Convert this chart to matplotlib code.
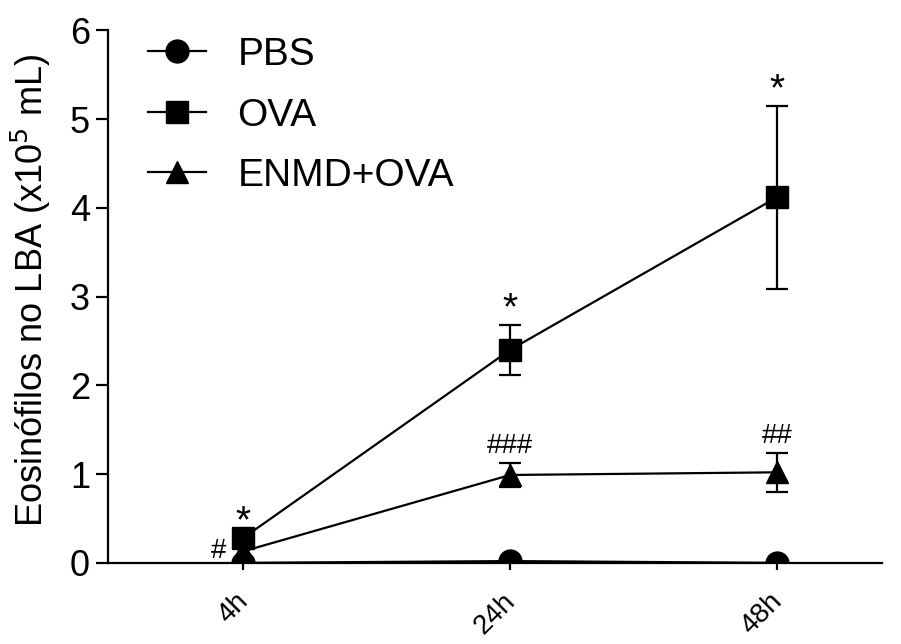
import numpy as np
import matplotlib
matplotlib.use('Agg')
import matplotlib.pyplot as plt
from matplotlib.transforms import ScaledTranslation

plt.rcParams['font.family'] = ['Liberation Sans', 'DejaVu Sans']

# Eosinophil counts in BAL fluid (x10^5/mL), mean and SEM
times = ['4h', '24h', '48h']
pbs = [0.0, 0.02, 0.0]
pbs_err = [0.0, 0.0, 0.0]
ova = [0.28, 2.40, 4.12]
ova_err = [0.0, 0.28, 1.03]
enmd = [0.13, 0.99, 1.02]
enmd_err = [0.0, 0.14, 0.22]

x = np.arange(len(times))

fig = plt.figure(figsize=(9.01, 6.44), dpi=100)
ax = fig.add_axes([0.12, 0.126, 0.859, 0.827])

lw = 1.6
ms = 16.5
groups = [(pbs, pbs_err, 'o', 'PBS'),
          (ova, ova_err, 's', 'OVA'),
          (enmd, enmd_err, '^', 'ENMD+OVA')]
for vals, errs, mk, name in groups:
    ax.plot(x, vals, color='black', marker=mk, markersize=ms, linewidth=lw,
            label=name, zorder=3)
    has_err = [i for i, e in enumerate(errs) if e > 0]
    if has_err:
        ax.errorbar([x[i] for i in has_err], [vals[i] for i in has_err],
                    yerr=[errs[i] for i in has_err], fmt='none', ecolor='black',
                    elinewidth=lw, capsize=8, capthick=lw, zorder=2)

# significance marks
for xi, v, e in zip(x, ova, ova_err):
    ax.annotate('*', (xi, v + e), xytext=(0, 4), textcoords='offset points',
                ha='center', va='baseline', fontsize=28)
ax.text(-0.094, 0.06, '#', ha='center', va='baseline', fontsize=20)
for i, mark in [(1, '###'), (2, '##')]:
    ax.annotate(mark, (x[i], enmd[i] + enmd_err[i]), xytext=(0, 7),
                textcoords='offset points', ha='center', va='baseline', fontsize=20)

ax.set_xlim(-0.506, 2.393)
ax.set_ylim(0, 6)
ax.set_yticks(range(0, 7))
ax.set_xticks(x)
ax.set_xticklabels(times, rotation=45, fontsize=20, ha='right', va='top',
                   rotation_mode='anchor')
ax.tick_params(axis='y', labelsize=26, width=lw, length=9, pad=4)
ax.tick_params(axis='x', width=lw, length=5, pad=13)
for lab in ax.get_xticklabels():
    lab.set_transform(lab.get_transform() + ScaledTranslation(-0.08, 0, fig.dpi_scale_trans))

ax.spines['top'].set_visible(False)
ax.spines['right'].set_visible(False)
ax.spines['left'].set_linewidth(lw)
ax.spines['bottom'].set_linewidth(lw)

ax.set_ylabel('Eosinófilos no LBA (x10$^5$ mL)', fontsize=26)
ax.yaxis.set_label_coords(-0.071, 0.512)

ax.legend(loc='upper left', bbox_to_anchor=(148 / 901, 1 - 37 / 644),
          bbox_transform=fig.transFigure, frameon=False, borderpad=0,
          borderaxespad=0, fontsize=28, handlelength=1.5, labelspacing=0.63,
          handletextpad=0.8)

fig.savefig('out.png', dpi=100)
